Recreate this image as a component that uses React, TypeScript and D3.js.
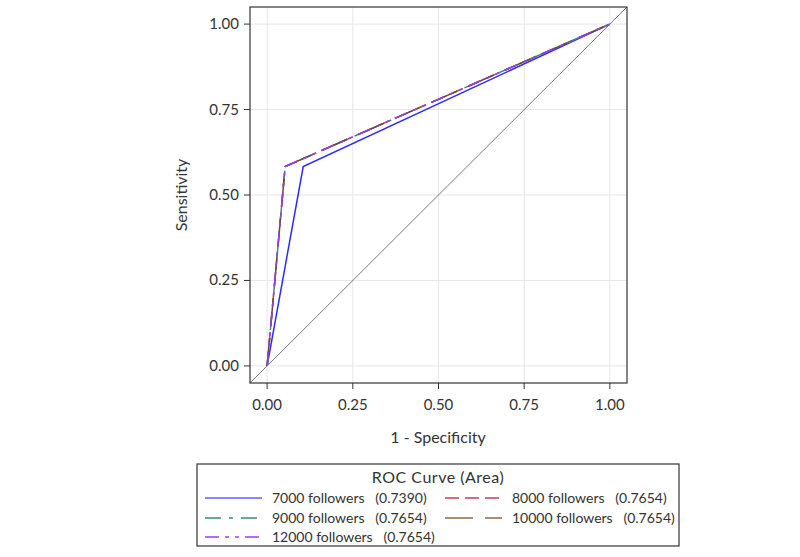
import React from "react";
import * as d3 from "d3";

const xTicks = [0, 0.25, 0.5, 0.75, 1.0];
const yTicks = [0, 0.25, 0.5, 0.75, 1.0];

const seriesNames = ["7000 followers", "8000 followers", "9000 followers", "10000 followers", "12000 followers"];
const seriesAuc = ["0.7390", "0.7654", "0.7654", "0.7654", "0.7654"];
const fpr7000 = [0, 0.1053, 1];
const tpr7000 = [0, 0.5833, 1];
const fpr8000 = [0, 0.0526, 1];
const tpr8000 = [0, 0.5833, 1];
const fpr9000 = [0, 0.0526, 1];
const tpr9000 = [0, 0.5833, 1];
const fpr10000 = [0, 0.0526, 1];
const tpr10000 = [0, 0.5833, 1];
const fpr12000 = [0, 0.0526, 1];
const tpr12000 = [0, 0.5833, 1];

const colors = ["#2b2bff", "#c2405e", "#3a8a80", "#6a4a30", "#9a3cf0"];
const dashes = ["none", "14 6", "16 8 4 8", "28 12", "14 6 4 6 4 6"];
const legendColors = ["#6a5cf0", "#c2405e", "#3a8a80", "#8a6a48", "#9a3cf0"];

const FONT = "Lato, 'Open Sans', sans-serif";

export default function App() {
  const x = d3.scaleLinear().domain([-0.05, 1.05]).range([250, 627]);
  const y = d3.scaleLinear().domain([-0.05, 1.05]).range([383, 7]);
  const fprs = [fpr7000, fpr8000, fpr9000, fpr10000, fpr12000];
  const tprs = [tpr7000, tpr8000, tpr9000, tpr10000, tpr12000];
  const line = d3.line<[number, number]>().x((d) => x(d[0])).y((d) => y(d[1]));
  const drawOrder = [0, 1, 2, 3, 4];

  const legendItems = [
    { i: 0, col: 0, row: 0 },
    { i: 1, col: 1, row: 0 },
    { i: 2, col: 0, row: 1 },
    { i: 3, col: 1, row: 1 },
    { i: 4, col: 0, row: 2 },
  ];
  const colX = [205, 445];
  const rowY = [498, 518, 537];

  return (
    <svg width={800} height={557} style={{ position: "absolute", left: 0, top: 0 }} fontFamily={FONT}>
      <rect x={0} y={0} width={800} height={557} fill="#fff" />
      <defs>
        <clipPath id="plotclip">
          <rect x={250} y={7} width={377} height={376} />
        </clipPath>
      </defs>
      {xTicks.map((t) => (
        <line key={"gx" + t} x1={x(t)} x2={x(t)} y1={7} y2={383} stroke="#e6e6e6" strokeWidth={1} />
      ))}
      {yTicks.map((t) => (
        <line key={"gy" + t} x1={250} x2={627} y1={y(t)} y2={y(t)} stroke="#e6e6e6" strokeWidth={1} />
      ))}
      <g clipPath="url(#plotclip)">
        <line x1={x(-0.05)} y1={y(-0.05)} x2={x(1.05)} y2={y(1.05)} stroke="#777" strokeWidth={1} />
        {drawOrder.map((i) => (
          <path
            key={"s" + i}
            d={line(fprs[i].map((v, k) => [v, tprs[i][k]] as [number, number])) || ""}
            fill="none"
            stroke={colors[i]}
            strokeWidth={1.5}
            strokeDasharray={dashes[i]}
          />
        ))}
      </g>
      <rect x={250} y={7} width={377} height={376} fill="none" stroke="#333" strokeWidth={1.2} />
      {xTicks.map((t) => (
        <g key={"xt" + t}>
          <line x1={x(t)} x2={x(t)} y1={383} y2={389} stroke="#333" />
          <text x={x(t)} y={410} textAnchor="middle" fontSize={15} fill="#333">
            {t.toFixed(2)}
          </text>
        </g>
      ))}
      {yTicks.map((t) => (
        <g key={"yt" + t}>
          <line x1={244} x2={250} y1={y(t)} y2={y(t)} stroke="#333" />
          <text x={239} y={y(t) + 5} textAnchor="end" fontSize={15} fill="#333">
            {t.toFixed(2)}
          </text>
        </g>
      ))}
      <text x={438} y={443} textAnchor="middle" fontSize={16} fill="#333">
        1 - Specificity
      </text>
      <text transform={`translate(187,${y(0.5)}) rotate(-90)`} textAnchor="middle" fontSize={16} fill="#333">
        Sensitivity
      </text>
      <rect x={197} y={464} width={482} height={82} fill="#fff" stroke="#333" strokeWidth={1.2} />
      <text x={438} y={483} textAnchor="middle" fontSize={16} fill="#333" letterSpacing={0.5}>
        ROC Curve (Area)
      </text>
      {legendItems.map(({ i, col, row }) => (
        <g key={"lg" + i}>
          <line
            x1={colX[col]}
            x2={colX[col] + 57}
            y1={rowY[row]}
            y2={rowY[row]}
            stroke={legendColors[i]}
            strokeWidth={1.5}
            strokeDasharray={dashes[i]}
          />
          <text x={colX[col] + 67} y={rowY[row] + 5} fontSize={14} fill="#333" style={{ whiteSpace: "pre" }}>
            {seriesNames[i] + "   (" + seriesAuc[i] + ")"}
          </text>
        </g>
      ))}
    </svg>
  );
}
